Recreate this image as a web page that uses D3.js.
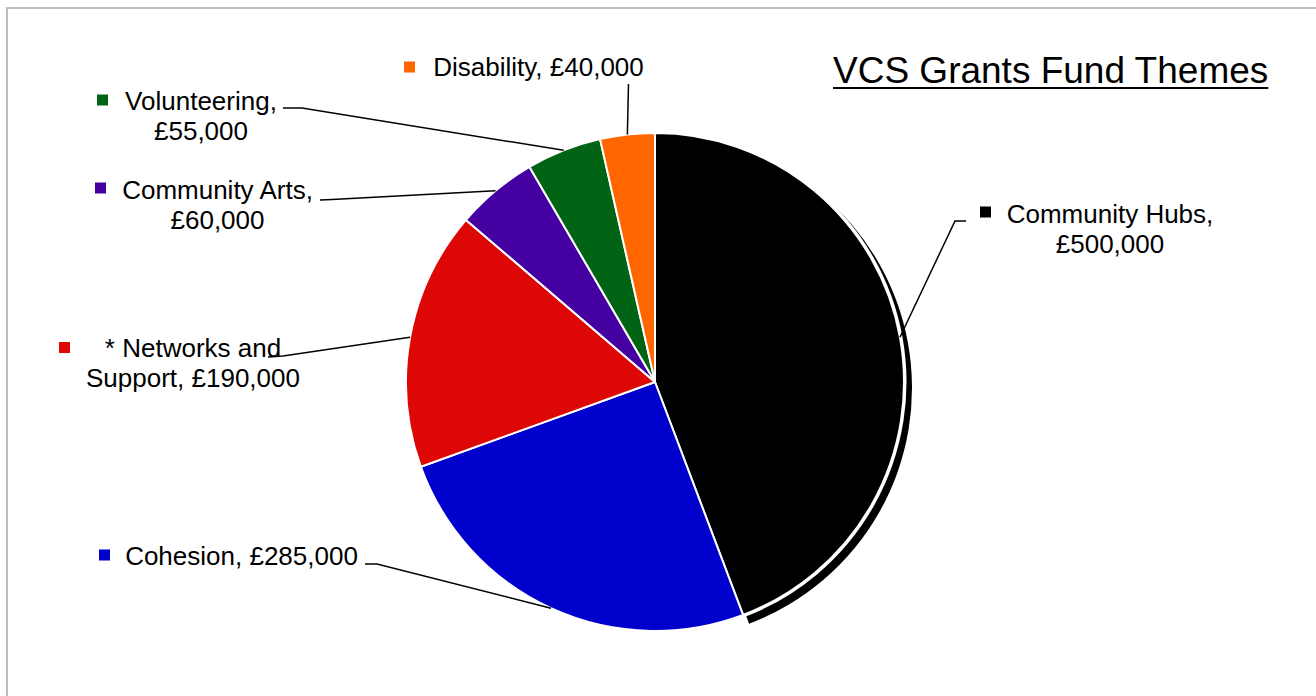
<!DOCTYPE html>
<html>
<head>
<meta charset="utf-8">
<script src="https://cdn.jsdelivr.net/npm/d3@7/dist/d3.min.js"></script>
<style>
  html, body { margin: 0; padding: 0; background: #fff; }
  svg { display: block; font-family: "Liberation Sans", Arial, sans-serif; }
</style>
</head>
<body>
<svg id="chart" width="1316" height="696"></svg>
<script>
// ---- data ----
const categories = ["Community Hubs", "Cohesion", "* Networks and Support", "Community Arts", "Volunteering", "Disability"];
const values = [500000, 285000, 190000, 60000, 55000, 40000];
const labelLines = [
  ["Community Hubs,", "£500,000"],
  ["Cohesion, £285,000"],
  ["* Networks and", "Support, £190,000"],
  ["Community Arts,", "£60,000"],
  ["Volunteering,", "£55,000"],
  ["Disability, £40,000"]
];
const colors = ["#000000", "#0000CC", "#DD0806", "#4400A0", "#006414", "#FF6600"];
const title = "VCS Grants Fund Themes";

// ---- layout (label placement) ----
const W = 1316, H = 696;
const cx = 655, cy = 382, R = 249;
const labelLayout = [
  { tx: 1110, ty: 223, sx: 980, sy: 212, lead: [[966, 221], [955, 221]] },
  { tx: 241.5, ty: 565, sx: 99, sy: 555, lead: [[365, 564], [377, 564]] },
  { tx: 193, ty: 357, sx: 59, sy: 347.5, lead: [[268, 357], [283, 356]] },
  { tx: 217.5, ty: 199, sx: 95, sy: 188, lead: [[320, 200], [332, 199.5]] },
  { tx: 201, ty: 110, sx: 97, sy: 100, lead: [[283, 108], [302, 108]] },
  { tx: 538.5, ty: 76, sx: 404, sy: 67, lead: [[628.5, 84]] }
];

const svg = d3.select("#chart");

// frame
svg.append("rect")
  .attr("x", 7).attr("y", 8).attr("width", W + 20).attr("height", H + 20)
  .attr("fill", "none").attr("stroke", "#bdbdbd").attr("stroke-width", 2);

const data = categories.map((c, i) => ({ name: c, value: values[i], color: colors[i], lines: labelLines[i], lay: labelLayout[i] }));

const pie = d3.pie().sort(null).value(d => d.value).startAngle(0).endAngle(2 * Math.PI);
const arcs = pie(data);
const arc = d3.arc().innerRadius(0).outerRadius(R);
const shadowArc = d3.arc().innerRadius(0).outerRadius(R + 3);

const g = svg.append("g").attr("transform", `translate(${cx},${cy})`);

// shadow for the largest slice
g.append("path")
  .attr("d", shadowArc(arcs[0]))
  .attr("transform", "translate(5,6)")
  .attr("fill", "#000");
// white halo separating slice and shadow
g.append("path")
  .attr("d", arc(arcs[0]))
  .attr("fill", "#fff")
  .attr("stroke", "#fff")
  .attr("stroke-width", 5)
  .attr("stroke-linejoin", "round");

g.selectAll("path.slice")
  .data(arcs)
  .join("path")
  .attr("class", "slice")
  .attr("d", arc)
  .attr("fill", d => d.data.color)
  .attr("stroke", "#fff")
  .attr("stroke-width", 2)
  .attr("stroke-linejoin", "round");

// leader lines
const edgePoint = d => {
  const a = (d.startAngle + d.endAngle) / 2;
  return [cx + R * Math.sin(a), cy - R * Math.cos(a)];
};
const line = d3.line();
svg.selectAll("path.leader")
  .data(arcs)
  .join("path")
  .attr("class", "leader")
  .attr("d", d => line([...d.data.lay.lead, edgePoint(d)]))
  .attr("fill", "none")
  .attr("stroke", "#000")
  .attr("stroke-width", 1.5);

// labels
const lg = svg.selectAll("g.label").data(arcs).join("g").attr("class", "label");
lg.append("rect")
  .attr("x", d => d.data.lay.sx)
  .attr("y", d => d.data.lay.sy - 5.5)
  .attr("width", 11).attr("height", 11)
  .attr("fill", d => d.data.color);
lg.each(function(d) {
  const t = d3.select(this).append("text")
    .attr("text-anchor", "middle")
    .attr("font-size", 26)
    .attr("fill", "#000");
  d.data.lines.forEach((ln, i) => {
    t.append("tspan").attr("x", d.data.lay.tx).attr("y", d.data.lay.ty + i * 29.5).text(ln);
  });
});

// title
const tt = svg.append("text")
  .attr("x", 833).attr("y", 83)
  .attr("font-size", 37)
  .attr("fill", "#000")
  .text(title);
const tw = tt.node().getComputedTextLength();
svg.append("line")
  .attr("x1", 833).attr("x2", 833 + tw)
  .attr("y1", 88).attr("y2", 88)
  .attr("stroke", "#000").attr("stroke-width", 2);
</script>
</body>
</html>
